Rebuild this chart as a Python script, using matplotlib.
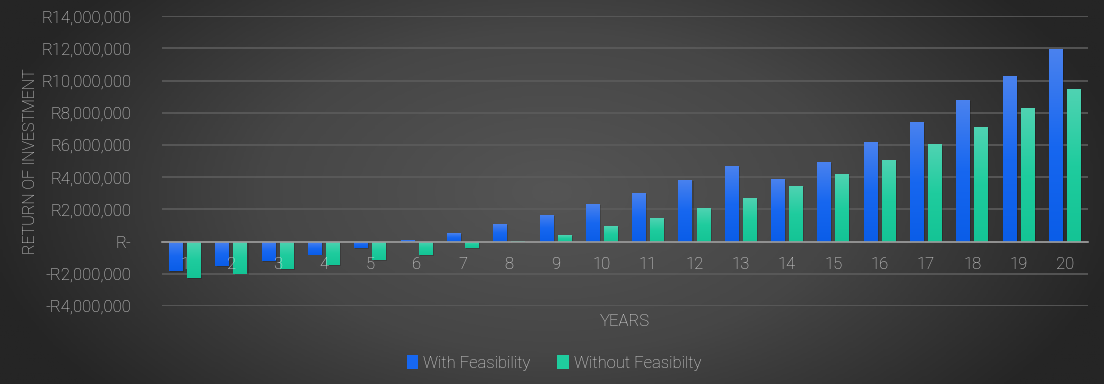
import numpy as np
import matplotlib.pyplot as plt
from matplotlib.ticker import FuncFormatter
from matplotlib.colors import LinearSegmentedColormap
from matplotlib.transforms import offset_copy

# data (rand)
years = [str(i) for i in range(1, 21)]
with_feas = [-1.85e6, -1.53e6, -1.2e6, -0.8e6, -0.4e6, 0.08e6, 0.55e6, 1.07e6, 1.68e6, 2.32e6,
             3.04e6, 3.85e6, 4.71e6, 3.91e6, 4.93e6, 6.17e6, 7.40e6, 8.78e6, 10.28e6, 11.93e6]
without_feas = [-2.25e6, -2.0e6, -1.7e6, -1.45e6, -1.15e6, -0.85e6, -0.42e6, 0.01e6, 0.41e6, 0.94e6,
                1.46e6, 2.06e6, 2.69e6, 3.45e6, 4.21e6, 5.08e6, 6.07e6, 7.10e6, 8.27e6, 9.46e6]
series_names = ['With Feasibility', 'Without Feasibilty']

plt.rcParams['font.family'] = ['Roboto', 'DejaVu Sans']
plt.rcParams['font.weight'] = 'light'
txt = '#dcdcdc'

fig = plt.figure(figsize=(11.04, 3.84), dpi=100)

# dark background, lighter in the middle
bg = fig.add_axes([0, 0, 1, 1], zorder=-10)
gx, gy = np.meshgrid(np.linspace(-1, 1, 400), np.linspace(-1, 1, 200))
r = np.sqrt((gx / 1.0) ** 2 + (gy / 1.6) ** 2)
bg_cmap = LinearSegmentedColormap.from_list('bg', ['#555555', '#464646', '#252525'])
bg.imshow(r, cmap=bg_cmap, vmin=0, vmax=1.05, aspect='auto', extent=[0, 1, 0, 1])
bg.axis('off')

ax = fig.add_axes([0.1467, 0.203, 0.8388, 0.755])
ax.set_facecolor('none')

x = np.arange(len(years))
w = 0.30
off = 0.195

blue_cmap = LinearSegmentedColormap.from_list('b', ['#0a5de8', '#1767f0', '#4a82ee'])
green_cmap = LinearSegmentedColormap.from_list('g', ['#14c495', '#1fcc9e', '#4fd3b2'])

grad = np.linspace(0, 1, 100).reshape(-1, 1)


def gradient_bars(xpos, vals, cmap, color):
    # soft shadow
    ax.bar(xpos + 0.025, vals, w, bottom=-0.06e6, color='black', alpha=0.18, zorder=2)
    bars = ax.bar(xpos, vals, w, color=color, zorder=3)
    for b in bars:
        x0, y0 = b.get_x(), b.get_y()
        x1, y1 = x0 + b.get_width(), y0 + b.get_height()
        lo, hi = min(y0, y1), max(y0, y1)
        img = ax.imshow(grad, cmap=cmap, origin='lower', aspect='auto',
                        extent=[x0, x1, lo, hi], zorder=4)
        img.set_clip_path(b)
    return bars


b1 = gradient_bars(x - off, with_feas, blue_cmap, '#1767f0')
b2 = gradient_bars(x + off, without_feas, green_cmap, '#1fcc9e')

ax.set_xlim(-0.5, len(years) - 0.5)
ax.set_ylim(-4e6, 14e6)
ax.set_yticks(np.arange(-4e6, 14.1e6, 2e6))


def rand_fmt(v, pos):
    if abs(v) < 1:
        return 'R-'
    s = 'R{:,.0f}'.format(abs(v))
    return '-' + s if v < 0 else s


ax.yaxis.set_major_formatter(FuncFormatter(rand_fmt))
ax.grid(axis='y', color='#5c5c5c', linewidth=1.2, zorder=0)
ax.set_axisbelow(True)

for s in ['top', 'right', 'left']:
    ax.spines[s].set_visible(False)
ax.spines['bottom'].set_position(('data', 0))
ax.spines['bottom'].set_color('#9c9c9c')
ax.spines['bottom'].set_linewidth(1.2)
ax.spines['bottom'].set_zorder(5)

# category labels just under the zero line, drawn on top of the negative bars
ax.set_xticks(x)
ax.set_xticklabels([])
ax.tick_params(axis='x', length=0)
lab_tr = offset_copy(ax.transData, fig=fig, x=0, y=-23, units='dots')
for xi, lab in zip(x, years):
    ax.text(xi, 0, lab, transform=lab_tr, ha='center', va='center',
            color=txt, fontsize=12, zorder=7)

ax.tick_params(axis='y', length=0, pad=22, colors=txt, labelsize=12)

fig.text(0.028, 0.58, 'RETURN OF INVESTMENT', rotation=90, color=txt,
         fontsize=11.5, ha='center', va='center')
fig.text(0.566, 0.163, 'YEARS', color=txt, fontsize=12, ha='center', va='center')

leg = fig.legend([b1, b2], series_names, loc='center', bbox_to_anchor=(0.502, 0.055),
                 ncol=2, frameon=False, fontsize=12, handlelength=0.7, handleheight=0.9,
                 handletextpad=0.3, columnspacing=1.6)
for t in leg.get_texts():
    t.set_color(txt)

fig.savefig('out.png', dpi=100)
